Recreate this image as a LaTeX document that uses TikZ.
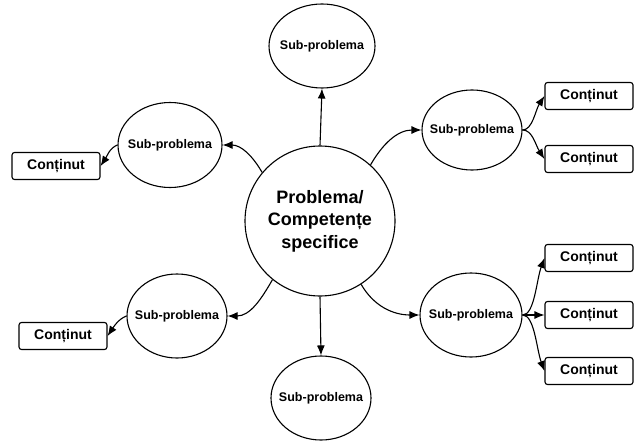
\documentclass[tikz,border=0pt]{standalone}
\usepackage{fontspec}
\setmainfont{Liberation Sans}
\usetikzlibrary{shapes.geometric,arrows.meta}
\begin{document}
\begin{tikzpicture}[x=1pt,y=-1pt,
  line width=1.1pt,
  every node/.style={font=\bfseries},
  hub/.style={circle,draw,inner sep=0pt,minimum size=150pt,
    font=\bfseries\fontsize{18}{22.5}\selectfont,align=center},
  % negative xsep keeps the outline at its minimum size
  sub/.style={ellipse,draw,inner xsep=-20pt,inner ysep=0pt,
    font=\bfseries\fontsize{12.5}{14}\selectfont},
  leaf/.style={draw,rounded corners=2.5pt,inner sep=0pt,
    minimum width=88pt,minimum height=27pt,
    font=\bfseries\fontsize{14}{16}\selectfont},
  link/.style={-{Latex[length=10pt,width=8pt]}}]
\useasboundingbox (0,0) rectangle (639,441);

% central topic
\node[hub] (c) at (320,221) {Problema/\\Competențe\\specifice};

% sub-problems
\node[sub,minimum width=106pt,minimum height=84pt] (t)  at (322,46)  {Sub-problema};
\node[sub,minimum width=100pt,minimum height=84pt] (b)  at (321,398) {Sub-problema};
\node[sub,minimum width=100pt,minimum height=80pt] (ur) at (472,130) {Sub-problema};
\node[sub,minimum width=102pt,minimum height=84pt] (lr) at (471,315) {Sub-problema};
\node[sub,minimum width=104pt,minimum height=85pt] (ul) at (170,145) {Sub-problema};
\node[sub,minimum width=100pt,minimum height=84pt] (ll) at (177,316) {Sub-problema};

% content boxes
\node[leaf] (ur1) at (589,96)  {Conținut};
\node[leaf] (ur2) at (589,159) {Conținut};
\node[leaf] (lr1) at (589,258) {Conținut};
\node[leaf] (lr2) at (589,315) {Conținut};
\node[leaf] (lr3) at (589,371) {Conținut};
\node[leaf] (ul1) at (56,166)  {Conținut};
\node[leaf] (ll1) at (63,336)  {Conținut};

% hub to sub-problems
\draw[link] (c.north) -- (t.south);
\draw[link] (c.south) -- (b.north);
\draw[link] (c.48)  to[out=60,in=180]   (ur.west);
\draw[link] (c.-57) to[out=-60,in=180]  (lr.west);
\draw[link] (c.140) to[out=120,in=0]    (ul.east);
\draw[link] (c.-129) to[out=-120,in=0]  (ll.east);

% sub-problems to content
\draw[link] (ur.east) .. controls +(10,0) and +(-9,14) .. (ur1.west);
\draw[link] (ur.east) .. controls +(10,0) and +(-9,-14) .. (ur2.west);
\draw[link] (lr.east) .. controls +(12,0) and +(-8,22) .. (lr1.west);
\draw[link] (lr.east) -- (lr2.west);
\draw[link] (lr.east) .. controls +(12,0) and +(-8,-22) .. (lr3.west);
\draw[link] (ul.west) .. controls +(-8,3) and +(6,-9) .. (ul1.east);
\draw[link] (ll.west) .. controls +(-8,3) and +(6,-9) .. (ll1.east);
\end{tikzpicture}
\end{document}
